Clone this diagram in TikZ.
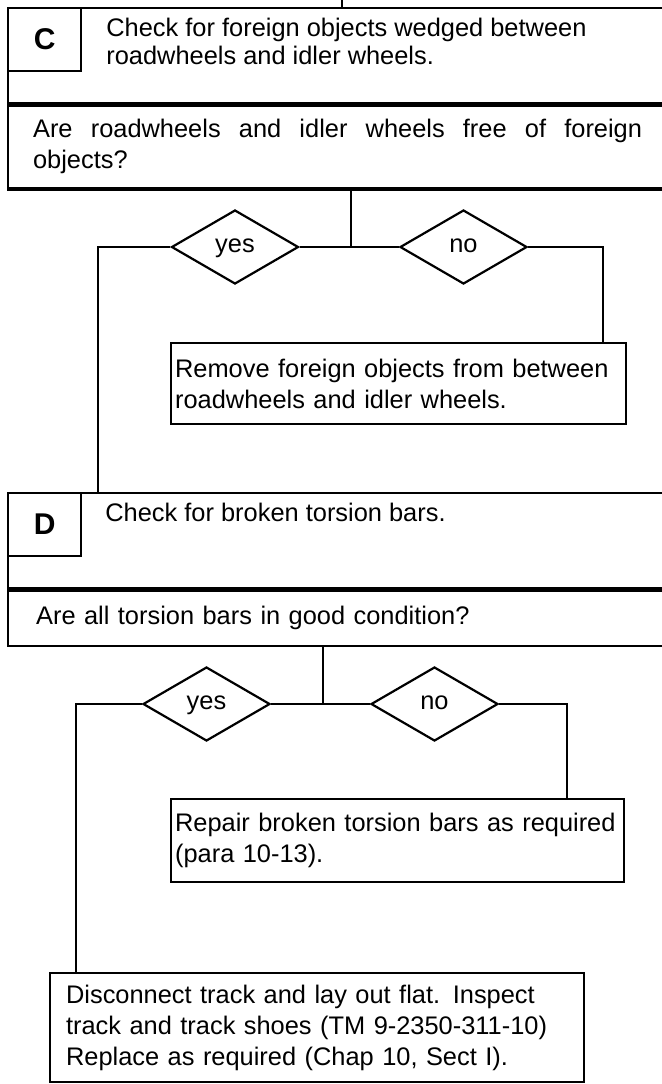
\documentclass[tikz,border=0pt]{standalone}
\usepackage{fontspec}
\setmainfont{Liberation Sans}
\usepackage{tikz}
\usetikzlibrary{positioning, shapes.geometric}

\begin{document}
\begin{tikzpicture}[x=0.5pt, y=-0.5pt,
    every node/.style={font=\fontsize{12.7}{15.5}\selectfont},
    stepbox/.style={draw, line width=1.1pt, rectangle, anchor=north west, inner sep=0pt, minimum width=329.5pt},
    letterbox/.style={draw, line width=1.1pt, rectangle, anchor=north west, minimum width=36.5pt, minimum height=31.5pt, font=\fontsize{15}{15}\selectfont\bfseries},
    textbox/.style={draw, line width=1.1pt, rectangle, anchor=north west, align=left, inner ysep=0pt},
    answer/.style={draw, line width=1.1pt, diamond, minimum width=63.5pt, minimum height=37pt, inner sep=0pt, text height=1.1ex, text depth=0pt},
    divider/.style={line width=2.3pt},
    link/.style={line width=1pt}]
    \useasboundingbox (0,0) rectangle (662,1084);

    % step C
    \coordinate (cin) at (342,0);
    \node[stepbox, minimum height=47.5pt] (cbox) at (7,7) {};
    \node[letterbox] (cletter) at (7,7) {C};
    \node[anchor=north west, inner sep=0pt, align=left, font=\fontsize{12.7}{14}\selectfont] (ctext) at (106,18) {Check for foreign objects wedged between\\roadwheels and idler wheels.};
    \node[textbox, minimum width=329.5pt, minimum height=41.5pt, inner xsep=12.5pt, text width=304.5pt, align=justify] (cask) at (cbox.south west) {Are roadwheels and idler wheels free of foreign\linebreak objects?};
    \draw[divider] (cbox.south west) -- (cbox.south east);
    \draw[line width=1.8pt] (cask.south west) -- (cask.south east);
    \draw[link] (cin) -- (cin |- cbox.north);

    \node[answer] (cyes) at (235,247) {yes};
    \node[answer] (cno) at (463.5,247) {no};
    \node[textbox, inner xsep=2pt, text width=223.5pt, minimum height=40.5pt] (cfix) at (170,342) {Remove foreign objects from between\\roadwheels and idler wheels.};

    % step D
    \node[stepbox, minimum height=47.5pt] (dbox) at (7,492) {};
    \node[letterbox] (dletter) at (7,492) {D};
    \node[anchor=north west, inner sep=0pt] (dtext) at (105,503) {Check for broken torsion bars.};
    \node[textbox, minimum width=329.5pt, minimum height=28pt, inner xsep=14pt, text width=301.5pt] (dask) at (dbox.south west) {Are all torsion bars in good condition?};
    \draw[divider] (dbox.south west) -- (dbox.south east);

    \node[answer] (dyes) at (206.5,704) {yes};
    \node[answer] (dno) at (434.5,704) {no};
    \node[textbox, inner xsep=2pt, text width=222.5pt, minimum height=41.5pt] (dfix) at (170,798) {Repair broken torsion bars as required\\(para 10-13).};
    \node[textbox, inner xsep=8pt, text width=251pt, minimum height=54.5pt] (track) at (49,972) {Disconnect track and lay out flat. Inspect\\track and track shoes (TM 9-2350-311-10)\\Replace as required (Chap 10, Sect I).};

    % branches
    \coordinate (cjoin) at (351,247);
    \coordinate (cleft) at (98,247);
    \coordinate (cright) at (603,247);
    \draw[link] (cask.south -| cjoin) -- (cjoin);
    \draw[link] (cyes) -- (cno);
    \draw[link] (cno) -- (cright) -- (cright |- cfix.north);
    \draw[link] (cyes) -- (cleft) -- (cleft |- dbox.north);

    \coordinate (djoin) at (323,704);
    \coordinate (dleft) at (76,704);
    \coordinate (dright) at (567,704);
    \draw[link] (dask.south -| djoin) -- (djoin);
    \draw[link] (dyes) -- (dno);
    \draw[link] (dno) -- (dright) -- (dright |- dfix.north);
    \draw[link] (dyes) -- (dleft) -- (dleft |- track.north);
\end{tikzpicture}
\end{document}
